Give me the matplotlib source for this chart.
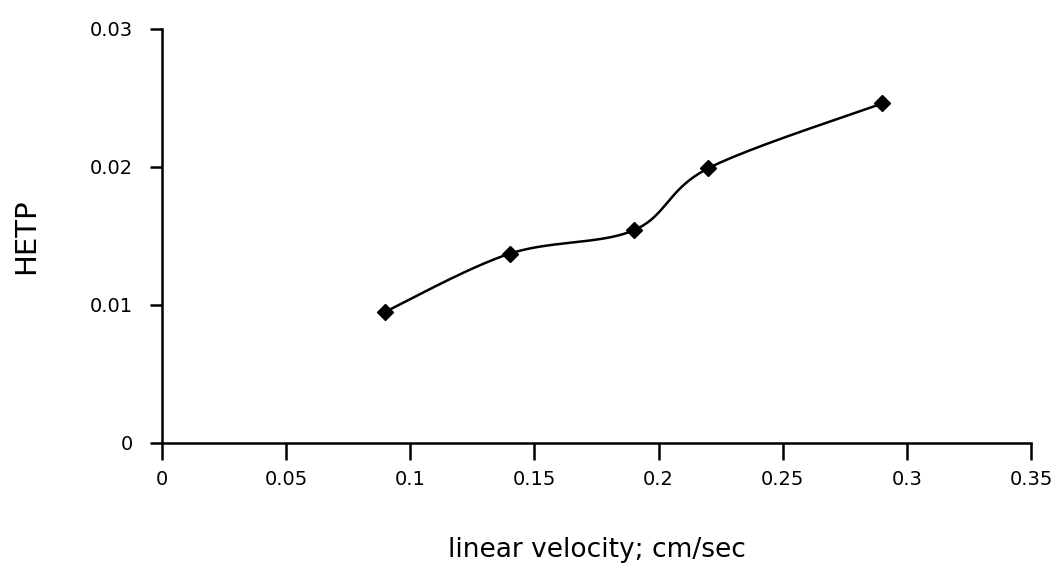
import numpy as np
import matplotlib
matplotlib.use("Agg")
import matplotlib.pyplot as plt

# values
velocity = [0.09, 0.14, 0.19, 0.22, 0.29]
hetp = [0.0095, 0.0137, 0.0154, 0.0199, 0.0246]
x_ticks = [0, 0.05, 0.1, 0.15, 0.2, 0.25, 0.3, 0.35]
x_labels = ["0", "0.05", "0.1", "0.15", "0.2", "0.25", "0.3", "0.35"]
y_ticks = [0, 0.01, 0.02, 0.03]
y_labels = ["0", "0.01", "0.02", "0.03"]


def smooth_curve(xs, ys, xspan, yspan, n=40):
    # Catmull-Rom style bezier (like a spreadsheet "smoothed line")
    px = np.array(xs) / xspan
    py = np.array(ys) / yspan
    pts = np.column_stack([px, py])
    out = []
    for i in range(len(pts) - 1):
        p0 = pts[i - 1] if i > 0 else pts[i]
        p1 = pts[i]
        p2 = pts[i + 1]
        p3 = pts[i + 2] if i + 2 < len(pts) else pts[i + 1]
        c1 = p1 + (p2 - p0) / 6
        c2 = p2 - (p3 - p1) / 6
        t = np.linspace(0, 1, n)[:, None]
        seg = ((1 - t) ** 3) * p1 + 3 * ((1 - t) ** 2) * t * c1 \
            + 3 * (1 - t) * t ** 2 * c2 + t ** 3 * p2
        out.append(seg)
    curve = np.vstack(out)
    return curve[:, 0] * xspan, curve[:, 1] * yspan


fig = plt.figure(figsize=(10.62, 5.74), dpi=100)
ax = fig.add_axes([0.1525, 0.229, 0.8185, 0.7205])

cx, cy = smooth_curve(velocity, hetp, 0.35 / 869, 0.03 / 413)
ax.plot(cx, cy, color="black", linewidth=1.8)
ax.plot(velocity, hetp, linestyle="none", marker="D", markersize=8,
        color="black")

ax.set_xlim(0, 0.35)
ax.set_ylim(0, 0.03)
ax.set_xticks(x_ticks)
ax.set_xticklabels(x_labels)
ax.set_yticks(y_ticks)
ax.set_yticklabels(y_labels)

for side in ["top", "right"]:
    ax.spines[side].set_visible(False)
for side in ["left", "bottom"]:
    ax.spines[side].set_linewidth(1.8)

ax.tick_params(axis="x", direction="out", length=12, width=1.8,
               pad=8, labelsize=14)
ax.tick_params(axis="y", direction="out", length=9, width=1.8,
               pad=12, labelsize=14)

ax.set_xlabel("linear velocity; cm/sec", fontsize=19, labelpad=34)
ax.set_ylabel("HETP", fontsize=21, labelpad=36)

fig.savefig("out.png", dpi=100)
